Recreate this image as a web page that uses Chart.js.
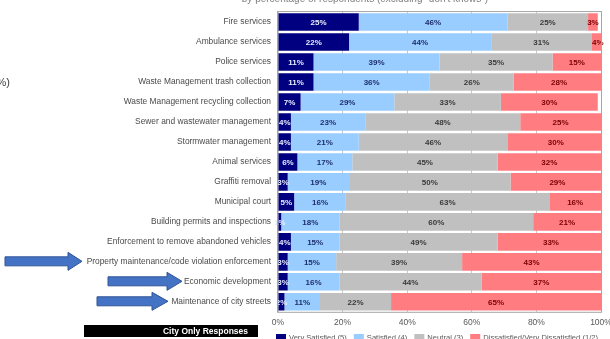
<!DOCTYPE html>
<html>
<head>
<meta charset="utf-8">
<script src="https://cdn.jsdelivr.net/npm/chart.js@4.4.1/dist/chart.umd.min.js"></script>
<style>
    html, body { margin: 0; padding: 0; background: #fff; overflow: hidden; }
    canvas { display: block; }
</style>
</head>
<body>
<canvas id="chart-item" width="610" height="339"></canvas>
<script>
// services rated, top to bottom
var categories = [
    'Fire services',
    'Ambulance services',
    'Police services',
    'Waste Management trash collection',
    'Waste Management recycling collection',
    'Sewer and wastewater management',
    'Stormwater management',
    'Animal services',
    'Graffiti removal',
    'Municipal court',
    'Building permits and inspections',
    'Enforcement to remove abandoned vehicles',
    'Property maintenance/code violation enforcement',
    'Economic development',
    'Maintenance of city streets'
];

// % of respondents per rating
var verySatisfied = [25, 22, 11, 11, 7, 4, 4, 6, 3, 5, 1, 4, 3, 3, 2];
var satisfied = [46, 44, 39, 36, 29, 23, 21, 17, 19, 16, 18, 15, 15, 16, 11];
var neutral = [25, 31, 35, 26, 33, 48, 46, 45, 50, 63, 60, 49, 39, 44, 22];
var dissatisfied = [3, 4, 15, 28, 30, 25, 30, 32, 29, 16, 21, 33, 43, 37, 65];

var seriesNames = ['Very Satisfied (5)', 'Satisfied (4)', 'Neutral (3)', 'Dissatisfied/Very Dissatisfied (1/2)'];
var xTicks = [0, 20, 40, 60, 80, 100];

var subtitleText = 'by percentage of respondents (excluding "don\'t knows")';
var boxText = 'City Only Responses';

// rows pointed out with arrows on the left: [row, start, head start, tip]
var arrows = [
    [12, 5, 68, 82],
    [13, 108, 167, 182],
    [14, 97, 152, 168]
];

var fillColors = ['#000080', '#99CCFF', '#C0C0C0', '#FF7C80'];
var textColors = ['#E6EEFF', '#1F2F6F', '#3A3A3A', '#7A0000'];
var FONT = '"Liberation Sans", Arial, sans-serif';

// value labels in the middle of each segment
var segmentLabels = {
    id: 'segmentLabels',
    afterDatasetsDraw: function (chart) {
        var ctx = chart.ctx;
        ctx.save();
        ctx.font = 'bold 8px ' + FONT;
        ctx.textAlign = 'center';
        ctx.textBaseline = 'middle';
        chart.data.datasets.forEach(function (ds, i) {
            var meta = chart.getDatasetMeta(i);
            ctx.fillStyle = textColors[i];
            meta.data.forEach(function (bar, j) {
                var cx = (bar.x + bar.base) / 2;
                ctx.fillText(ds.data[j] + '%', cx, bar.y + 0.5);
            });
        });
        // frame round the plot
        var a = chart.chartArea;
        ctx.strokeStyle = '#A6A6A6';
        ctx.lineWidth = 1;
        ctx.strokeRect(a.left - 0.5, a.top - 0.5, a.right - a.left + 1, a.bottom - a.top + 1);
        ctx.restore();
    }
};

// arrows, black box, cut-off texts and the legend row
var extras = {
    id: 'extras',
    afterDraw: function (chart) {
        var ctx = chart.ctx;
        var yScale = chart.scales.y;
        ctx.save();

        ctx.fillStyle = '#7F7F7F';
        ctx.font = '10px ' + FONT;
        ctx.textAlign = 'center';
        ctx.textBaseline = 'alphabetic';
        ctx.fillText(subtitleText, 365, 2);

        ctx.fillStyle = '#404040';
        ctx.font = '11px ' + FONT;
        ctx.textAlign = 'right';
        ctx.textBaseline = 'middle';
        ctx.fillText('(%)', 10, 83);

        arrows.forEach(function (ar) {
            var y = yScale.getPixelForValue(ar[0]) - 0.5;
            ctx.beginPath();
            ctx.moveTo(ar[1], y - 4.5);
            ctx.lineTo(ar[2], y - 4.5);
            ctx.lineTo(ar[2], y - 9);
            ctx.lineTo(ar[3], y);
            ctx.lineTo(ar[2], y + 9);
            ctx.lineTo(ar[2], y + 4.5);
            ctx.lineTo(ar[1], y + 4.5);
            ctx.closePath();
            ctx.fillStyle = '#4472C4';
            ctx.fill();
            ctx.strokeStyle = '#2F5597';
            ctx.lineWidth = 1;
            ctx.stroke();
        });

        ctx.fillStyle = '#000';
        ctx.fillRect(84, 325, 174, 12);
        ctx.fillStyle = '#fff';
        ctx.font = 'bold 8.5px ' + FONT;
        ctx.textAlign = 'right';
        ctx.fillText(boxText, 248, 331.5);

        // legend
        var x = 276;
        ctx.font = '7.6px ' + FONT;
        ctx.textAlign = 'left';
        chart.data.datasets.forEach(function (ds, i) {
            ctx.fillStyle = ds.backgroundColor;
            ctx.fillRect(x, 334, 10, 8);
            ctx.fillStyle = '#595959';
            ctx.fillText(ds.label, x + 13, 338);
            x += 13 + ctx.measureText(ds.label).width + 7;
        });
        ctx.restore();
    }
};

var values = [verySatisfied, satisfied, neutral, dissatisfied];
var datasets = values.map(function (v, i) {
    return {
        label: seriesNames[i],
        data: v,
        backgroundColor: fillColors[i],
        borderWidth: 0,
        barPercentage: 0.88,
        categoryPercentage: 1
    };
});

var ctx = document.getElementById('chart-item').getContext('2d');
var chart = new Chart(ctx, {
    type: 'bar',
    data: {
        labels: categories,
        datasets: datasets
    },
    options: {
        indexAxis: 'y',
        responsive: false,
        animation: false,
        layout: {
            padding: { top: 9, right: 9, bottom: 5, left: 0 }
        },
        plugins: {
            legend: { display: false },
            tooltip: { enabled: false }
        },
        scales: {
            x: {
                stacked: true,
                min: 0,
                max: 100,
                afterBuildTicks: function (scale) {
                    scale.ticks = xTicks.map(function (v) { return { value: v }; });
                },
                afterFit: function (scale) {
                    scale.paddingLeft = 0;
                    scale.paddingRight = 0;
                },
                grid: { color: '#C8C8C8', drawTicks: false },
                border: { display: false },
                ticks: {
                    padding: 6,
                    color: '#595959',
                    font: { family: FONT, size: 8.5 },
                    callback: function (v) { return v + '%'; }
                }
            },
            y: {
                stacked: true,
                afterFit: function (scale) {
                    scale.width = 278;
                },
                grid: { display: false, drawTicks: false },
                border: { display: false },
                ticks: {
                    padding: 7,
                    color: '#4A4A4A',
                    autoSkip: false,
                    font: { family: FONT, size: 8.4 }
                }
            }
        }
    },
    plugins: [segmentLabels, extras]
});
</script>
</body>
</html>
